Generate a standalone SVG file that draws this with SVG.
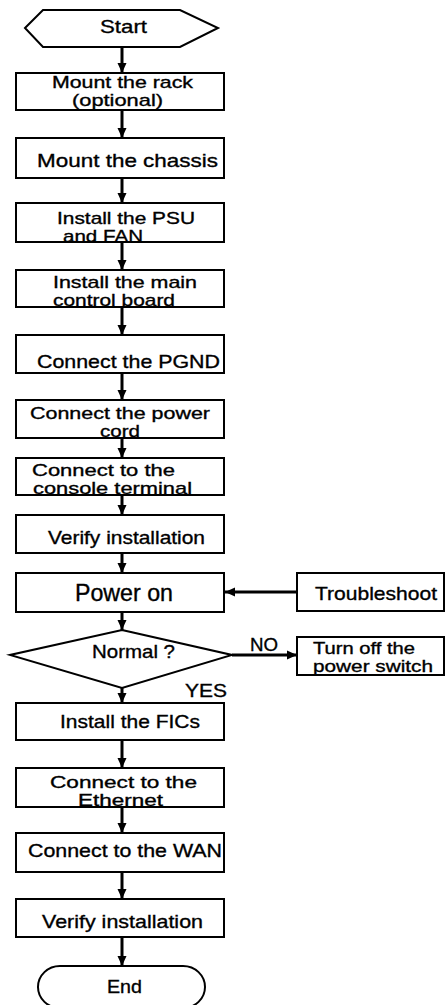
<svg xmlns="http://www.w3.org/2000/svg" width="445" height="1005" viewBox="0 0 445 1005">
<style>
.n{fill:#fff;stroke:#000;stroke-width:2}
.t{font-family:"Liberation Sans",Arial,sans-serif;font-size:19px;fill:#000;stroke:#000;stroke-width:0.35}
.s{font-size:17px}
.c{fill:none;stroke:#000;stroke-width:3}
</style>
<defs>
<marker id="ah" markerUnits="userSpaceOnUse" markerWidth="10" markerHeight="10" viewBox="0 0 10 10" refX="10" refY="5" orient="auto">
<path d="M0,0.5 L10,5 L0,9.5 Z" fill="#000"/>
</marker>
</defs>
<g id="connectors">
<line class="c" x1="122" y1="48" x2="122" y2="73" marker-end="url(#ah)"/>
<line class="c" x1="122" y1="110" x2="122" y2="138" marker-end="url(#ah)"/>
<line class="c" x1="122" y1="178" x2="122" y2="203" marker-end="url(#ah)"/>
<line class="c" x1="122" y1="242" x2="122" y2="270" marker-end="url(#ah)"/>
<line class="c" x1="122" y1="307" x2="122" y2="335" marker-end="url(#ah)"/>
<line class="c" x1="122" y1="373" x2="122" y2="400" marker-end="url(#ah)"/>
<line class="c" x1="122" y1="438" x2="122" y2="458" marker-end="url(#ah)"/>
<line class="c" x1="122" y1="495" x2="122" y2="515" marker-end="url(#ah)"/>
<line class="c" x1="122" y1="553" x2="122" y2="573" marker-end="url(#ah)"/>
<line class="c" x1="122" y1="612" x2="122" y2="630" marker-end="url(#ah)"/>
<line class="c" x1="122" y1="688" x2="122" y2="703" marker-end="url(#ah)"/>
<line class="c" x1="122" y1="740" x2="122" y2="768" marker-end="url(#ah)"/>
<line class="c" x1="122" y1="807" x2="122" y2="833" marker-end="url(#ah)"/>
<line class="c" x1="122" y1="872" x2="122" y2="899" marker-end="url(#ah)"/>
<line class="c" x1="122" y1="937" x2="122" y2="966" marker-end="url(#ah)"/>
<line class="c" x1="297" y1="592" x2="225" y2="592" marker-end="url(#ah)"/>
<line class="c" x1="232" y1="655" x2="297" y2="655" marker-end="url(#ah)"/>
</g>
<g id="start">
<polygon class="n" points="25,28 43,10 180,10 218,28 180,47 43,47"/>
<text class="t" x="100" y="33" textLength="47" lengthAdjust="spacingAndGlyphs">Start</text>
</g>
<g id="rack">
<rect class="n" x="16" y="73" width="208" height="37"/>
<text class="t s" x="52" y="88" textLength="141" lengthAdjust="spacingAndGlyphs">Mount the rack</text>
<text class="t s" x="72" y="106" textLength="91" lengthAdjust="spacingAndGlyphs">(optional)</text>
</g>
<g id="chassis">
<rect class="n" x="16" y="138" width="208" height="40"/>
<text class="t" x="37" y="167" textLength="181" lengthAdjust="spacingAndGlyphs">Mount the chassis</text>
</g>
<g id="psu">
<rect class="n" x="16" y="203" width="208" height="39"/>
<text class="t s" x="57" y="224" textLength="138" lengthAdjust="spacingAndGlyphs">Install the PSU</text>
<text class="t s" x="63" y="242" textLength="80" lengthAdjust="spacingAndGlyphs">and FAN</text>
</g>
<g id="mcb">
<rect class="n" x="16" y="270" width="208" height="37"/>
<text class="t s" x="53" y="288" textLength="144" lengthAdjust="spacingAndGlyphs">Install the main</text>
<text class="t s" x="53" y="306" textLength="122" lengthAdjust="spacingAndGlyphs">control board</text>
</g>
<g id="pgnd">
<rect class="n" x="16" y="335" width="208" height="38"/>
<text class="t" x="37" y="368" textLength="183" lengthAdjust="spacingAndGlyphs">Connect the PGND</text>
</g>
<g id="cord">
<rect class="n" x="16" y="400" width="208" height="38"/>
<text class="t s" x="30" y="419" textLength="180" lengthAdjust="spacingAndGlyphs">Connect the power</text>
<text class="t s" x="100" y="437" textLength="40" lengthAdjust="spacingAndGlyphs">cord</text>
</g>
<g id="console">
<rect class="n" x="16" y="458" width="208" height="37"/>
<text class="t s" x="32" y="476" textLength="143" lengthAdjust="spacingAndGlyphs">Connect to the</text>
<text class="t s" x="33" y="494" textLength="159" lengthAdjust="spacingAndGlyphs">console terminal</text>
</g>
<g id="verify1">
<rect class="n" x="16" y="515" width="208" height="38"/>
<text class="t" x="48" y="544" textLength="157" lengthAdjust="spacingAndGlyphs">Verify installation</text>
</g>
<g id="poweron">
<rect class="n" x="16" y="573" width="208" height="39"/>
<text class="t" x="75" y="601" textLength="98" lengthAdjust="spacingAndGlyphs" style="font-size:23px">Power on</text>
</g>
<g id="troubleshoot">
<rect class="n" x="297" y="573" width="147" height="38"/>
<text class="t" x="315" y="600" textLength="122" lengthAdjust="spacingAndGlyphs">Troubleshoot</text>
</g>
<g id="normal">
<polygon class="n" points="122,630 232,655 122,688 10,655"/>
<text class="t" x="92" y="658" textLength="83" lengthAdjust="spacingAndGlyphs">Normal ?</text>
</g>
<g id="turnoff">
<rect class="n" x="297" y="637" width="147" height="38"/>
<text class="t s" x="313" y="654" textLength="102" lengthAdjust="spacingAndGlyphs">Turn off the</text>
<text class="t s" x="313" y="672" textLength="120" lengthAdjust="spacingAndGlyphs">power switch</text>
</g>
<g id="labels">
<text class="t" x="250" y="651" textLength="28" lengthAdjust="spacingAndGlyphs">NO</text>
<text class="t" x="185" y="697" textLength="42" lengthAdjust="spacingAndGlyphs">YES</text>
</g>
<g id="fics">
<rect class="n" x="16" y="703" width="208" height="37"/>
<text class="t" x="60" y="728" textLength="140" lengthAdjust="spacingAndGlyphs">Install the FICs</text>
</g>
<g id="ethernet">
<rect class="n" x="16" y="768" width="208" height="39"/>
<text class="t s" x="50" y="788" textLength="147" lengthAdjust="spacingAndGlyphs">Connect to the</text>
<text class="t s" x="78" y="806" textLength="85" lengthAdjust="spacingAndGlyphs">Ethernet</text>
</g>
<g id="wan">
<rect class="n" x="16" y="833" width="208" height="39"/>
<text class="t" x="28" y="857" textLength="194" lengthAdjust="spacingAndGlyphs">Connect to the WAN</text>
</g>
<g id="verify2">
<rect class="n" x="16" y="899" width="208" height="38"/>
<text class="t" x="42" y="928" textLength="161" lengthAdjust="spacingAndGlyphs">Verify installation</text>
</g>
<g id="end">
<rect class="n" x="38" y="966" width="167" height="42" rx="22" ry="21"/>
<text class="t" x="107" y="993" textLength="35" lengthAdjust="spacingAndGlyphs">End</text>
</g>
</svg>
